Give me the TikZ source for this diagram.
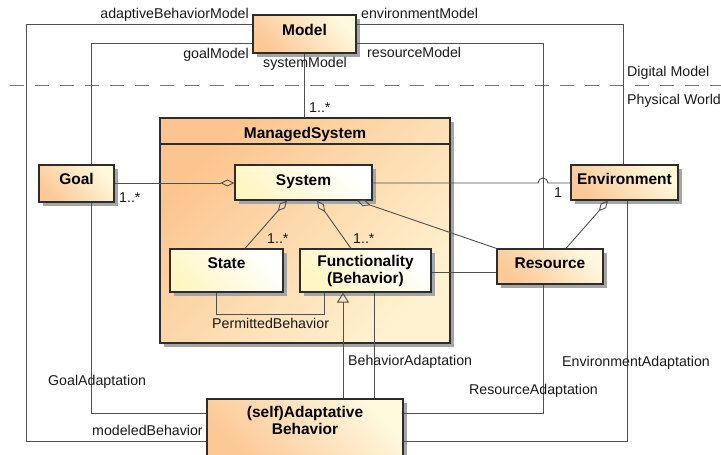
\documentclass[tikz,border=0pt]{standalone}
\usepackage{fontspec}
\setmainfont{Liberation Sans}
\usetikzlibrary{arrows.meta,shadows}
\definecolor{orA}{RGB}{252,200,150}
\definecolor{orB}{RGB}{255,249,222}
\definecolor{yeA}{RGB}{255,246,196}
\definecolor{yeB}{RGB}{255,255,255}
\definecolor{msA}{RGB}{252,196,142}
\definecolor{msB}{RGB}{255,242,208}
\definecolor{bord}{RGB}{45,45,45}
\definecolor{lin}{RGB}{80,80,80}
\definecolor{shad}{RGB}{165,165,165}
\begin{document}
\begin{tikzpicture}[x=1pt,y=-1pt,
  lbl/.style={font=\fontsize{14.2}{17}\selectfont, inner sep=0pt, anchor=base west, text=black!90},
  lble/.style={lbl, anchor=base east},
  box/.style={draw=bord, line width=1.2pt, inner sep=0pt,
    font=\fontsize{15.5}{17}\selectfont\bfseries,
    drop shadow={shadow xshift=4pt, shadow yshift=-4pt, fill=shad, opacity=1}},
  outer/.style={box, left color=orA, right color=orB, shading angle=135},
  inner/.style={box, left color=yeA, right color=yeB, shading angle=135},
  td/.style={text height=12pt, text depth=#1},
  conn/.style={draw=lin, line width=0.9pt},
  agg/.style={conn, {Diamond[open, length=14pt, width=7pt]}-},
  gen/.style={conn, -{Triangle[open, length=10pt, width=12pt]}},
]
\useasboundingbox (0,0) rectangle (721,455);

% boxes
\node[outer, minimum width=103pt, minimum height=38pt, td=10pt] (model) at (304.5,34) {Model};
\node[outer, minimum width=75pt, minimum height=37pt, td=10.9pt] (goal) at (76.5,183.5) {Goal};
\node[box, left color=msA, right color=msB, shading angle=45, minimum width=290pt, minimum height=225pt] (ms) at (305,230.5) {};
\node[font=\fontsize{15.5}{17}\selectfont\bfseries, inner sep=0pt, anchor=base] (mstitle) at (305,138) {ManagedSystem};
\draw[draw=bord, line width=1.2pt] (ms.west|-0,144) -- (ms.east|-0,144);
\node[inner, minimum width=137pt, minimum height=35pt, td=6.9pt] (system) at (303.5,182.5) {System};
\node[inner, minimum width=113pt, minimum height=43pt, td=16.9pt] (state) at (226.5,270.5) {State};
\node[inner, minimum width=131pt, minimum height=43pt, align=center] (func) at (365.5,270.5) {Functionality\\(Behavior)};
\node[outer, minimum width=106pt, minimum height=35pt, td=8.9pt] (resource) at (550,266.5) {Resource};
\node[outer, minimum width=107pt, minimum height=35pt, td=8.9pt] (env) at (624.5,182.5) {Environment};
\node[outer, minimum width=196pt, minimum height=59pt, align=center] (adapt) at (305,428.5) {(self)Adaptative\\Behavior\\\mbox{}};

% dashed separator
\draw[draw=black!55, line width=1pt, dash pattern=on 14pt off 11pt] (10,85) -- (721,85);

% model connectors
\draw[conn] (model.west|-0,24) -| (26,441) -- (adapt.west|-0,441);
\draw[conn] (model.west|-0,43) -| (goal.north-|91,0);
\draw[conn] (goal.south-|91,0) |- (adapt.west|-0,413);
\draw[conn] (model.south-|304,0) -- (ms.north-|304,0);
\draw[conn] (model.east|-0,43) -| (resource.north-|543,0);
\draw[conn] (resource.south-|543,0) |- (adapt.east|-0,413);
\draw[conn] (model.east|-0,24) -| (env.north-|623,0);
\draw[conn] (env.south-|627,0) |- (adapt.east|-0,441);

% aggregations
\draw[agg] (system.west|-0,183) -- (goal.east|-0,183);
\draw[agg] (system.south-|287,0) -- (state.north-|245,0);
\draw[agg] (system.south-|317,0) -- (func.north-|351,0);
\draw[agg] (system.south-|357,0) -- (resource.north west);
\draw[agg] (env.south-|608,0) -- (resource.north-|566,0);
\coordinate (hop) at (538,183);
\draw[conn] (system.east|-0,183) -- (hop) arc[start angle=180, end angle=360, radius=5] -- (env.west|-0,183);
\draw[conn] (func.east|-0,272) -- (resource.west|-0,272);
\draw[conn] (state.south-|216,0) |- (324,314) -- (func.south-|324,0);
\draw[gen] (adapt.north-|343,0) -- (func.south-|343,0);
\draw[conn] (func.south-|374,0) -- (adapt.north-|374,0);

% labels
\node[lble] (l1) at (249,19) {adaptiveBehaviorModel};
\node[lbl] (l2) at (361,19) {environmentModel};
\node[lble] (l3) at (249,58) {goalModel};
\node[lbl] (l4) at (367,57) {resourceModel};
\node[lbl] (l5) at (263,67) {systemModel};
\node[lbl] (l6) at (627,76) {Digital Model};
\node[lbl] (l7) at (627,104) {Physical World};
\node[lbl] (m1) at (309,112) {1..*};
\node[lbl] (m2) at (119,202) {1..*};
\node[lbl] (m3) at (267,243) {1..*};
\node[lbl] (m4) at (353,243) {1..*};
\node[lbl] (m5) at (554,197) {1};
\node[lbl] (l8) at (212,328) {PermittedBehavior};
\node[lbl] (l9) at (348,365) {BehaviorAdaptation};
\node[lbl] (l10) at (48,385) {GoalAdaptation};
\node[lbl] (l11) at (562,366) {EnvironmentAdaptation};
\node[lbl] (l12) at (469,394) {ResourceAdaptation};
\node[lbl] (l13) at (92,435) {modeledBehavior};
\end{tikzpicture}
\end{document}
